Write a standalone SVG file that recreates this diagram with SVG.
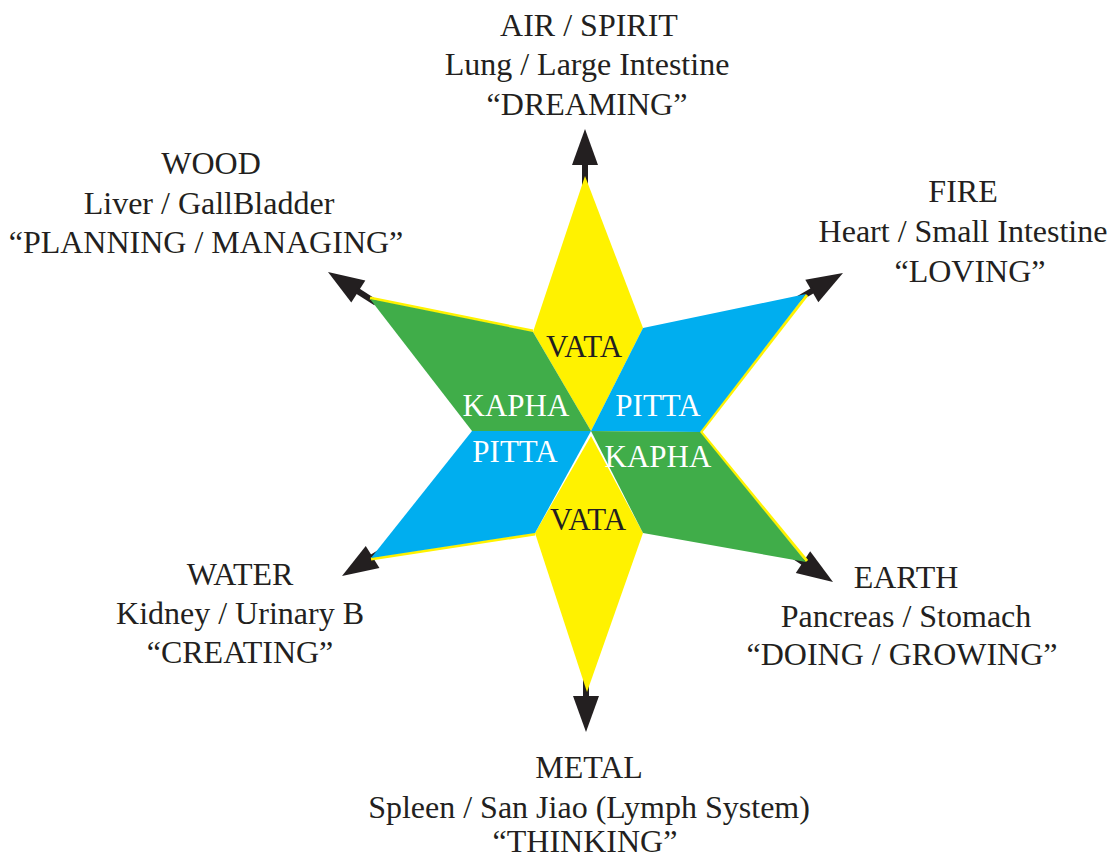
<svg xmlns="http://www.w3.org/2000/svg" xmlns:xlink="http://www.w3.org/1999/xlink" width="1112" height="857" viewBox="0 0 1112 857">
<style>
.lbl{font-family:"Liberation Serif","Times New Roman",serif;font-size:32px;fill:#231f20;text-anchor:middle}
.in{font-family:"Liberation Serif","Times New Roman",serif;font-size:31px;text-anchor:middle}
.dk{fill:#231f20}
.wh{fill:#ffffff}
.y{fill:#fff200}
.b{fill:#00aeef}
.g{fill:#40ad49}
.edge{stroke:#fff200;stroke-width:3;fill:none}
.arr{fill:#231f20}
</style>
<defs>
<g id="arrow" class="arr">
<polygon points="0,0 -36,-13 -36,13"/>
<rect x="-57" y="-3" width="23" height="6"/>
</g>
</defs>
<rect width="1112" height="857" fill="#ffffff"/>
<g id="connectors">
<use xlink:href="#arrow" transform="translate(585,129) rotate(-90)"/>
<use xlink:href="#arrow" transform="translate(328,272) rotate(-147.3)"/>
<use xlink:href="#arrow" transform="translate(843,273) rotate(-30)"/>
<use xlink:href="#arrow" transform="translate(342,576) rotate(148.2)"/>
<use xlink:href="#arrow" transform="translate(833,582) rotate(33.5)"/>
<use xlink:href="#arrow" transform="translate(586,732) rotate(90)"/>
</g>
<g id="star">
<line class="edge" x1="370" y1="298" x2="533" y2="331"/>
<line class="edge" x1="807" y1="295" x2="700" y2="433"/>
<line class="edge" x1="371" y1="559" x2="535" y2="534"/>
<line class="edge" x1="700" y1="431" x2="807" y2="561"/>
<polygon class="y" points="585,176 643,328 591,431 533,332"/>
<polygon class="g" points="370,299 533,332 591,431 472,431"/>
<polygon class="b" points="643,328 806,294 700,432 591,431"/>
<polygon class="y" points="591,436 643,533 587,692 535,533"/>
<polygon class="b" points="472,431 591,431 535,533 371,558"/>
<polygon class="g" points="591,431 700,432 806,562 643,533"/>
</g>
<g id="doshas">
<text class="in dk" x="584" y="357">VATA</text>
<text class="in wh" x="516" y="416">KAPHA</text>
<text class="in wh" x="658" y="416">PITTA</text>
<text class="in wh" x="515" y="462">PITTA</text>
<text class="in wh" x="658" y="467">KAPHA</text>
<text class="in dk" x="588" y="530">VATA</text>
</g>
<g id="air">
<text class="lbl" x="589" y="36">AIR / SPIRIT</text>
<text class="lbl" x="587" y="75">Lung / Large Intestine</text>
<text class="lbl" x="587" y="115">“DREAMING”</text>
</g>
<g id="wood">
<text class="lbl" x="211" y="174">WOOD</text>
<text class="lbl" x="209" y="214">Liver / GallBladder</text>
<text class="lbl" x="206" y="253">“PLANNING / MANAGING”</text>
</g>
<g id="fire">
<text class="lbl" x="963" y="202">FIRE</text>
<text class="lbl" x="963" y="242">Heart / Small Intestine</text>
<text class="lbl" x="970" y="282">“LOVING”</text>
</g>
<g id="water">
<text class="lbl" x="240" y="585">WATER</text>
<text class="lbl" x="240" y="624">Kidney / Urinary B</text>
<text class="lbl" x="240" y="663">“CREATING”</text>
</g>
<g id="earth">
<text class="lbl" x="906" y="588">EARTH</text>
<text class="lbl" x="906" y="627">Pancreas / Stomach</text>
<text class="lbl" x="902" y="665">“DOING / GROWING”</text>
</g>
<g id="metal">
<text class="lbl" x="589" y="778">METAL</text>
<text class="lbl" x="589" y="818">Spleen / San Jiao (Lymph System)</text>
<text class="lbl" x="585" y="852">“THINKING”</text>
</g>
</svg>
